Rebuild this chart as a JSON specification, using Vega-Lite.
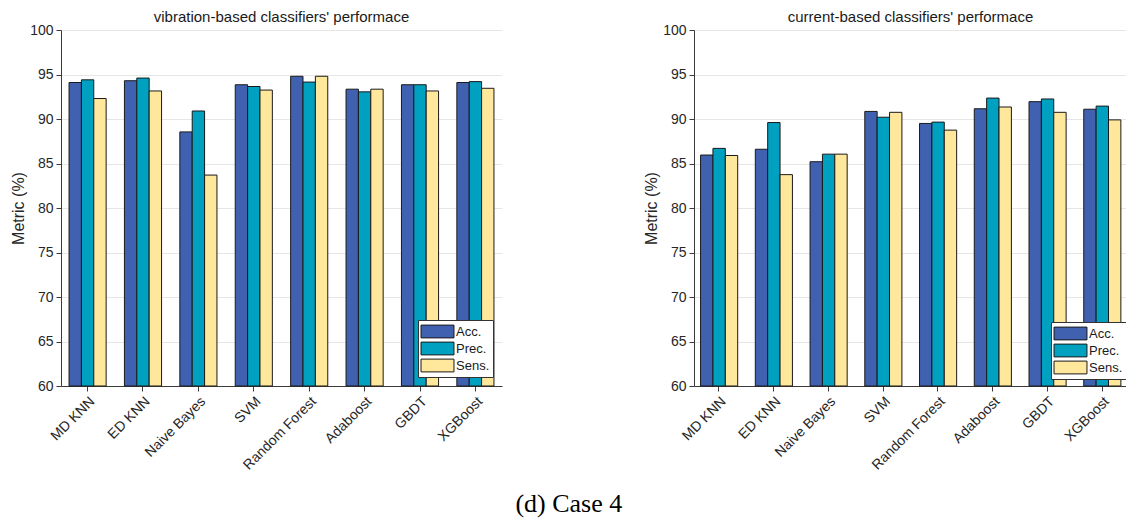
{
  "$schema": "https://vega.github.io/schema/vega-lite/v6.json",
  "padding": {"left": 10, "top": 10, "right": 0, "bottom": 2},
  "background": "white",
  "datasets": {
    "vib": [
      {"classifier": "MD KNN", "metric": "Acc.", "value": 94.1},
      {"classifier": "MD KNN", "metric": "Prec.", "value": 94.4},
      {"classifier": "MD KNN", "metric": "Sens.", "value": 92.3},
      {"classifier": "ED KNN", "metric": "Acc.", "value": 94.3},
      {"classifier": "ED KNN", "metric": "Prec.", "value": 94.6},
      {"classifier": "ED KNN", "metric": "Sens.", "value": 93.15},
      {"classifier": "Naive Bayes", "metric": "Acc.", "value": 88.55},
      {"classifier": "Naive Bayes", "metric": "Prec.", "value": 90.9},
      {"classifier": "Naive Bayes", "metric": "Sens.", "value": 83.7},
      {"classifier": "SVM", "metric": "Acc.", "value": 93.85},
      {"classifier": "SVM", "metric": "Prec.", "value": 93.65},
      {"classifier": "SVM", "metric": "Sens.", "value": 93.25},
      {"classifier": "Random Forest", "metric": "Acc.", "value": 94.8},
      {"classifier": "Random Forest", "metric": "Prec.", "value": 94.15},
      {"classifier": "Random Forest", "metric": "Sens.", "value": 94.8},
      {"classifier": "Adaboost", "metric": "Acc.", "value": 93.35},
      {"classifier": "Adaboost", "metric": "Prec.", "value": 93.05},
      {"classifier": "Adaboost", "metric": "Sens.", "value": 93.35},
      {"classifier": "GBDT", "metric": "Acc.", "value": 93.85},
      {"classifier": "GBDT", "metric": "Prec.", "value": 93.85},
      {"classifier": "GBDT", "metric": "Sens.", "value": 93.15},
      {"classifier": "XGBoost", "metric": "Acc.", "value": 94.1},
      {"classifier": "XGBoost", "metric": "Prec.", "value": 94.2},
      {"classifier": "XGBoost", "metric": "Sens.", "value": 93.45}
    ],
    "cur": [
      {"classifier": "MD KNN", "metric": "Acc.", "value": 85.95},
      {"classifier": "MD KNN", "metric": "Prec.", "value": 86.7},
      {"classifier": "MD KNN", "metric": "Sens.", "value": 85.9},
      {"classifier": "ED KNN", "metric": "Acc.", "value": 86.6},
      {"classifier": "ED KNN", "metric": "Prec.", "value": 89.6},
      {"classifier": "ED KNN", "metric": "Sens.", "value": 83.75},
      {"classifier": "Naive Bayes", "metric": "Acc.", "value": 85.2},
      {"classifier": "Naive Bayes", "metric": "Prec.", "value": 86.05},
      {"classifier": "Naive Bayes", "metric": "Sens.", "value": 86.05},
      {"classifier": "SVM", "metric": "Acc.", "value": 90.85},
      {"classifier": "SVM", "metric": "Prec.", "value": 90.2},
      {"classifier": "SVM", "metric": "Sens.", "value": 90.75},
      {"classifier": "Random Forest", "metric": "Acc.", "value": 89.5},
      {"classifier": "Random Forest", "metric": "Prec.", "value": 89.65},
      {"classifier": "Random Forest", "metric": "Sens.", "value": 88.75},
      {"classifier": "Adaboost", "metric": "Acc.", "value": 91.15},
      {"classifier": "Adaboost", "metric": "Prec.", "value": 92.35},
      {"classifier": "Adaboost", "metric": "Sens.", "value": 91.35},
      {"classifier": "GBDT", "metric": "Acc.", "value": 91.95},
      {"classifier": "GBDT", "metric": "Prec.", "value": 92.25},
      {"classifier": "GBDT", "metric": "Sens.", "value": 90.75},
      {"classifier": "XGBoost", "metric": "Acc.", "value": 91.1},
      {"classifier": "XGBoost", "metric": "Prec.", "value": 91.45},
      {"classifier": "XGBoost", "metric": "Sens.", "value": 89.9}
    ]
  },
  "config": {
    "font": "Liberation Sans",
    "view": {"stroke": null},
    "axis": {
      "domainColor": "#3a3a3a",
      "tickColor": "#3a3a3a",
      "labelColor": "#262626",
      "titleColor": "#262626",
      "labelFontSize": 14,
      "titleFontSize": 16,
      "titleFontWeight": "normal",
      "gridColor": "#e6e6e6",
      "tickSize": 5
    },
    "legend": {
      "fillColor": "white",
      "strokeColor": "#333333",
      "padding": 3,
      "labelFontSize": 13,
      "labelColor": "#1a1a1a",
      "symbolType": "M-2.06,-0.8H2.06V0.8H-2.06Z",
      "symbolSize": 256,
      "symbolStrokeColor": "#1a1a1a",
      "symbolStrokeWidth": 1,
      "symbolOpacity": 1,
      "symbolOffset": 8,
      "labelOffset": 10,
      "rowPadding": 0,
      "cornerRadius": 0
    },
    "title": {"fontSize": 15, "fontWeight": "normal", "color": "#1a1a1a", "offset": -2}
  },
  "title": {
    "text": "(d) Case 4",
    "orient": "bottom",
    "anchor": "middle",
    "font": "Liberation Serif",
    "fontSize": 26,
    "fontWeight": "normal",
    "color": "#000000",
    "offset": 19
  },
  "spacing": 141,
  "resolve": {"scale": {"color": "independent"}, "legend": {"color": "independent"}},
  "hconcat": [
    {
      "title": "vibration-based classifiers' performace",
      "width": 441,
      "height": 356,
      "data": {"name": "vib"},
      "mark": {"type": "bar", "stroke": "#1a1a1a", "strokeWidth": 1},
      "encoding": {
        "x": {
          "field": "classifier", "type": "nominal",
          "sort": ["MD KNN", "ED KNN", "Naive Bayes", "SVM", "Random Forest", "Adaboost", "GBDT", "XGBoost"],
          "scale": {"paddingInner": 0.33, "paddingOuter": 0.145},
          "axis": {"title": null, "labelAngle": -45, "labelPadding": 3}
        },
        "xOffset": {"field": "metric", "type": "nominal", "sort": ["Acc.", "Prec.", "Sens."], "scale": {"paddingInner": 0, "paddingOuter": 0}},
        "y": {
          "field": "value", "type": "quantitative",
          "scale": {"domain": [60, 100], "zero": false, "nice": false},
          "axis": {"title": "Metric (%)", "values": [60, 65, 70, 75, 80, 85, 90, 95, 100], "titlePadding": 3, "labelPadding": 3}
        },
        "y2": {"datum": 60},
        "color": {
          "field": "metric", "type": "nominal",
          "scale": {"domain": ["Acc.", "Prec.", "Sens."], "range": ["#4060b0", "#00a0c0", "#ffe89c"]},
          "legend": {"title": null, "orient": "bottom-right", "offset": 9}
        }
      }
    },
    {
      "title": "current-based classifiers' performace",
      "width": 433,
      "height": 356,
      "data": {"name": "cur"},
      "mark": {"type": "bar", "stroke": "#1a1a1a", "strokeWidth": 1},
      "encoding": {
        "x": {
          "field": "classifier", "type": "nominal",
          "sort": ["MD KNN", "ED KNN", "Naive Bayes", "SVM", "Random Forest", "Adaboost", "GBDT", "XGBoost"],
          "scale": {"paddingInner": 0.33, "paddingOuter": 0.12},
          "axis": {"title": null, "labelAngle": -45, "labelPadding": 3}
        },
        "xOffset": {"field": "metric", "type": "nominal", "sort": ["Acc.", "Prec.", "Sens."], "scale": {"paddingInner": 0, "paddingOuter": 0}},
        "y": {
          "field": "value", "type": "quantitative",
          "scale": {"domain": [60, 100], "zero": false, "nice": false},
          "axis": {"title": "Metric (%)", "values": [60, 65, 70, 75, 80, 85, 90, 95, 100], "titlePadding": 3, "labelPadding": 3}
        },
        "y2": {"datum": 60},
        "color": {
          "field": "metric", "type": "nominal",
          "scale": {"domain": ["Acc.", "Prec.", "Sens."], "range": ["#4060b0", "#00a0c0", "#ffe89c"]},
          "legend": {"title": null, "orient": "none", "legendX": 357, "legendY": 292}
        }
      }
    }
  ]
}
